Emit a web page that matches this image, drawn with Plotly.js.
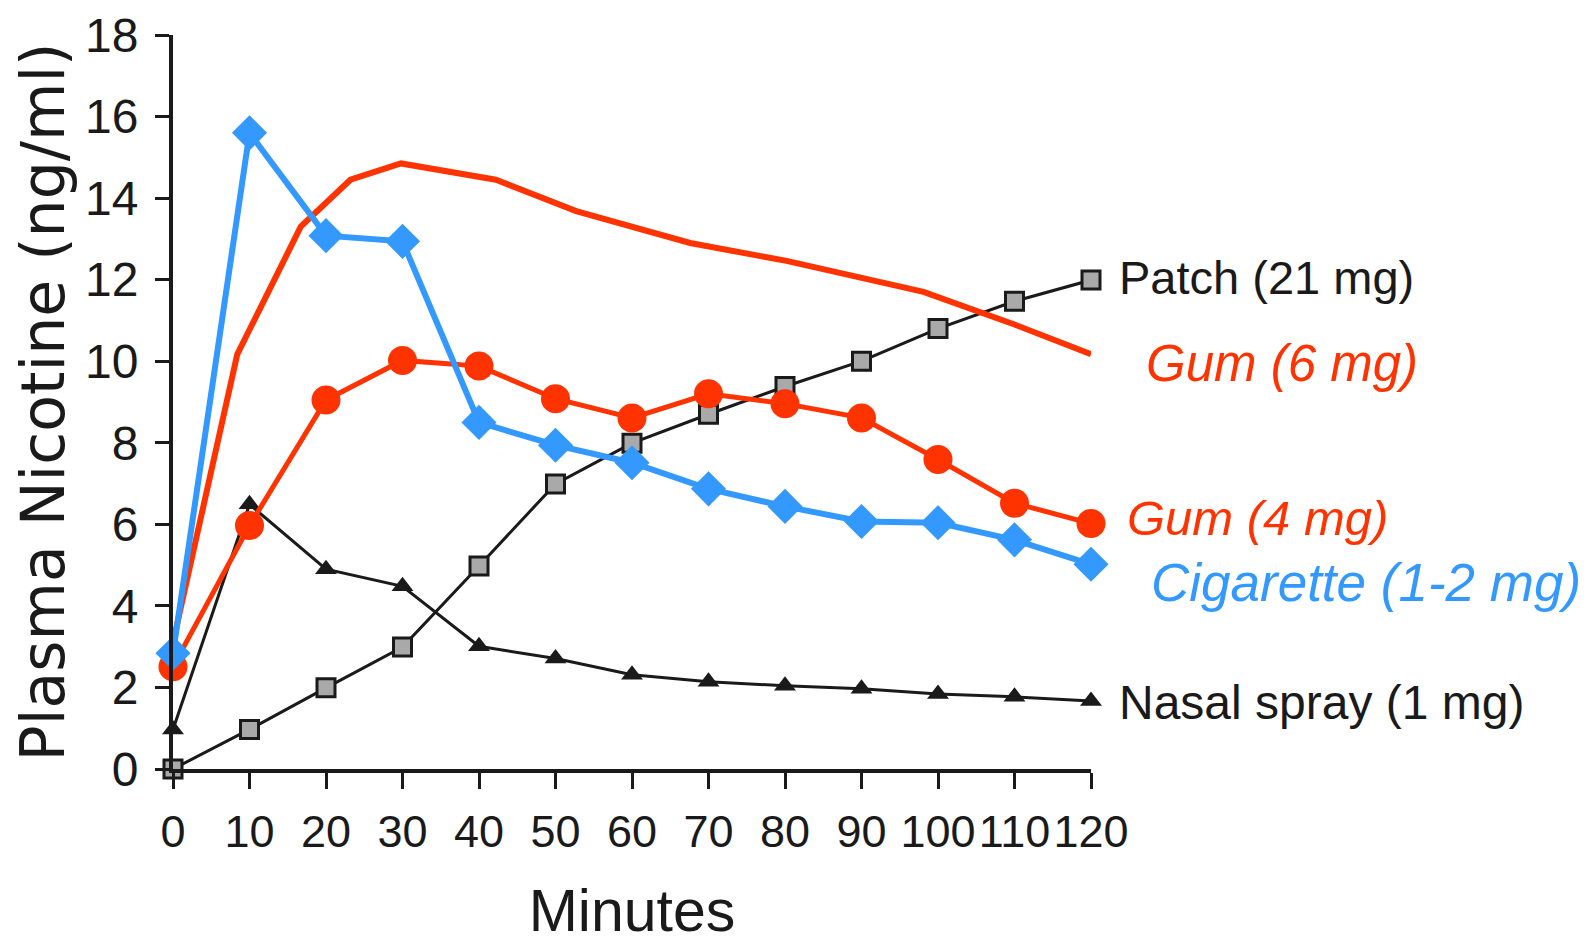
<!DOCTYPE html>
<html>
<head>
<meta charset="utf-8">
<script src="https://cdn.plot.ly/plotly-3.0.1.min.js"></script>
<style>html,body{margin:0;padding:0;background:#fff;}#chart{width:1592px;height:944px;}</style>
</head>
<body>
<div id="chart"></div>
<script>
// Data (minutes, plasma nicotine ng/ml)
const minutes = [0, 10, 20, 30, 40, 50, 60, 70, 80, 90, 100, 110, 120];
const patch21 = [0.0, 0.97, 1.99, 2.99, 4.98, 6.99, 7.99, 8.7, 9.38, 10.0, 10.8, 11.47, 11.99];
const nasal1 = [0.97, 6.49, 4.9, 4.48, 3.01, 2.71, 2.31, 2.14, 2.04, 1.97, 1.84, 1.77, 1.67];
const gum4 = [2.51, 5.97, 9.05, 10.02, 9.88, 9.08, 8.61, 9.2, 8.96, 8.61, 7.59, 6.52, 6.02];
const cigarette = [2.84, 15.6, 13.08, 12.94, 8.5, 7.94, 7.51, 6.87, 6.44, 6.07, 6.04, 5.62, 5.02];
const gum6Minutes = [0, 8.4, 16.7, 23.2, 29.8, 42.2, 52.7, 67.6, 80.2, 98.1, 110, 120];
const gum6 = [3.1, 10.17, 13.3, 14.45, 14.85, 14.45, 13.68, 12.9, 12.46, 11.7, 10.9, 10.17];
const yTicks = [0, 2, 4, 6, 8, 10, 12, 14, 16, 18];
const xTicks = [0, 10, 20, 30, 40, 50, 60, 70, 80, 90, 100, 110, 120];
const seriesLabels = ["Patch (21 mg)", "Gum (6 mg)", "Gum (4 mg)", "Cigarette (1-2 mg)", "Nasal spray (1 mg)"];

const RED = "#ff3300", BLUE = "#3399ff", INK = "#1a1a1a";
const SANS = "Liberation Sans, Arial, Helvetica, sans-serif";

const traces = [
  {x: minutes, y: patch21, mode: "lines+markers", name: seriesLabels[0], cliponaxis: false,
   line: {color: INK, width: 3},
   marker: {symbol: "square", size: 18, color: "#a9a9a9", line: {color: INK, width: 3}}},
  {x: minutes, y: nasal1, mode: "lines+markers", name: seriesLabels[4], cliponaxis: false,
   line: {color: INK, width: 3},
   marker: {symbol: "triangle-up", size: 19, color: INK}},
  {x: gum6Minutes, y: gum6, mode: "lines", name: seriesLabels[1], cliponaxis: false,
   line: {color: RED, width: 6}},
  {x: minutes, y: gum4, mode: "lines+markers", name: seriesLabels[2], cliponaxis: false,
   line: {color: RED, width: 5},
   marker: {symbol: "circle", size: 29, color: RED}},
  {x: minutes, y: cigarette, mode: "lines+markers", name: seriesLabels[3], cliponaxis: false,
   line: {color: BLUE, width: 6},
   marker: {symbol: "diamond", size: 27, color: BLUE}}
];

function ann(px, y, text, font) {
  return {xref: "paper", yref: "y", x: (px - 172.6) / 918.4, y: y, text: text, showarrow: false,
          xanchor: "left", yanchor: "middle", font: font};
}

const layout = {
  width: 1592, height: 944,
  margin: {l: 172.6, r: 500.8, t: 34.6, b: 175},
  paper_bgcolor: "#fff", plot_bgcolor: "#fff",
  showlegend: false,
  xaxis: {
    range: [0, 120], tickvals: xTicks, ticktext: xTicks.map(String), tickangle: 0,
    showgrid: false, zeroline: false, showline: true, linecolor: INK, linewidth: 4,
    ticks: "outside", ticklen: 16, tickwidth: 3, tickcolor: INK,
    tickfont: {family: SANS, size: 45, color: INK}, ticklabelstandoff: 4,
    title: {text: "Minutes", font: {family: SANS, size: 59, color: INK}, standoff: 36}
  },
  yaxis: {
    range: [0, 18], tickvals: yTicks, ticktext: yTicks.map(String),
    showgrid: false, zeroline: false, showline: true, linecolor: INK, linewidth: 4,
    ticks: "outside", ticklen: 14, tickwidth: 3, tickcolor: INK,
    tickfont: {family: SANS, size: 48, color: INK}, ticklabelstandoff: 7,
    title: {text: "Plasma Nicotine (ng/ml)", font: {family: "DejaVu Sans, sans-serif", size: 60, color: INK}, standoff: 2}
  },
  annotations: [
    ann(1117, 12.06, seriesLabels[0], {family: SANS, size: 47, color: INK}),
    ann(1144, 9.95, "<i>" + seriesLabels[1] + "</i>", {family: SANS, size: 51, color: RED}),
    ann(1125, 6.15, "<i>" + seriesLabels[2] + "</i>", {family: SANS, size: 49, color: RED}),
    ann(1149, 4.58, "<i>" + seriesLabels[3] + "</i>", {family: SANS, size: 53, color: BLUE}),
    ann(1117, 1.62, seriesLabels[4], {family: SANS, size: 48, color: INK})
  ]
};

Plotly.newPlot("chart", traces, layout, {displayModeBar: false, responsive: false});
</script>
</body>
</html>
